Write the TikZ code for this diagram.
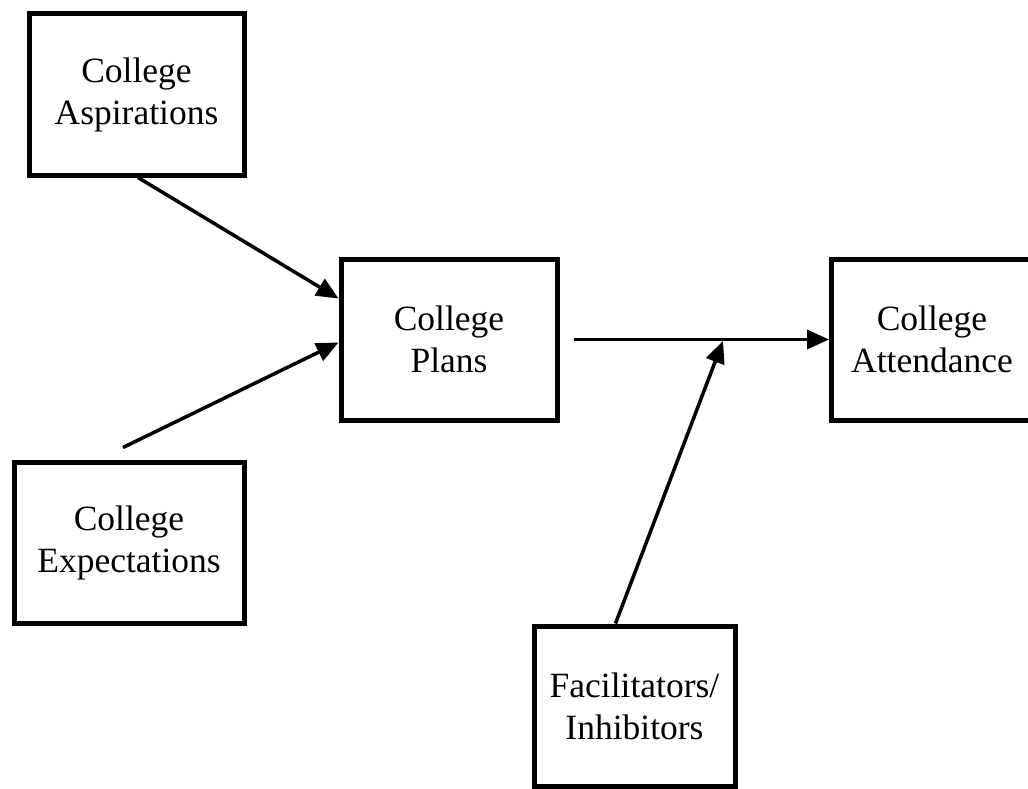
\documentclass[tikz,border=0pt]{standalone}
\usepackage{fontspec}
\setmainfont{Liberation Serif}
\usetikzlibrary{arrows.meta}
\begin{document}
\begin{tikzpicture}[x=1pt,y=-1pt,
  box/.style={draw, line width=5pt, inner sep=0pt, align=center,
    font=\fontsize{35.5}{42}\selectfont},
  link/.style={line width=3.5pt, -{Triangle[length=22pt,width=19pt]}}]
\useasboundingbox (0,0) rectangle (1028,789);
\clip (0,0) rectangle (1028,789);
\node[box, minimum width=215pt, minimum height=161pt] (asp) at (136.5,94.5) {College\\Aspirations};
\node[box, minimum width=216pt, minimum height=161pt] (plans) at (449,339.5) {College\\Plans};
\node[box, minimum width=201pt, minimum height=161pt] (att) at (932,339.5) {College\\Attendance};
\node[box, minimum width=230pt, minimum height=161pt] (exp) at (129,542.5) {College\\Expectations};
\node[box, minimum width=201pt, minimum height=160pt] (fac) at (634.5,706) {Facilitators/\\Inhibitors};
\coordinate (J) at (723,341);
\draw[link] ([xshift=1.5pt]asp.south) -- ([yshift=41pt]plans.west);
\draw[link] ([xshift=-6pt,yshift=12pt]exp.north) -- ([yshift=-3pt]plans.west);
\draw[link] ([xshift=14pt]plans.east) -- (att.west);
\draw[link] ([xshift=-19pt]fac.north) -- (J);
\end{tikzpicture}
\end{document}
